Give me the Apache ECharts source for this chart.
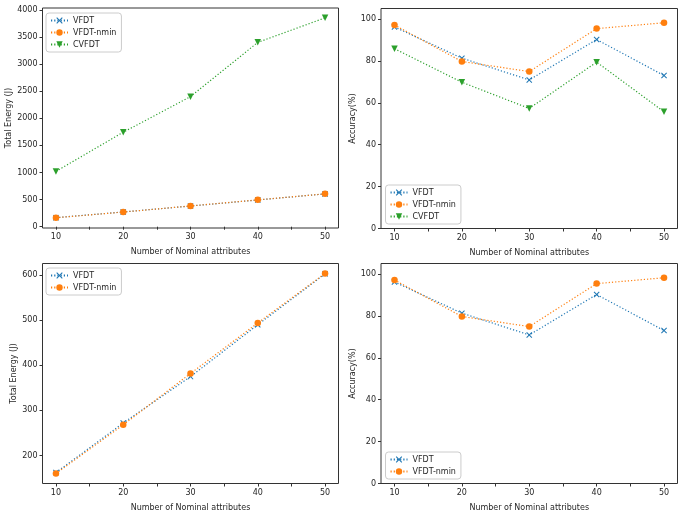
<!DOCTYPE html>
<html>
<head>
<meta charset="utf-8">
<script src="https://cdn.jsdelivr.net/npm/echarts@6/dist/echarts.min.js"></script>
<style>html,body{margin:0;padding:0;background:#fff}#c{width:685px;height:513px}</style>
</head>
<body>
<div id="c"></div>
<script>
// ---- data ----
const nominalAttrs = [10, 20, 30, 40, 50];
const xTickValues = [10, 15, 20, 25, 30, 35, 40, 45, 50];
const xLabelValues = [10, 20, 30, 40, 50];

// Top-left: total energy (J), all three
const energyVFDT_A = [167, 272, 381, 493, 605];
const energyNmin_A = [165, 270, 383, 495, 606];
const energyCVFDT_A = [1020, 1743, 2399, 3400, 3852];
const energyTicks_A = [0, 500, 1000, 1500, 2000, 2500, 3000, 3500, 4000];

// Top-right & bottom-right: accuracy (%)
const accVFDT = [96.2, 81.3, 70.9, 90.2, 73.0];
const accNmin = [97.1, 79.7, 74.9, 95.4, 98.2];
const accCVFDT = [85.8, 69.8, 57.3, 79.4, 55.7];
const accTicks = [0, 20, 40, 60, 80, 100];

// Bottom-left: total energy (J), VFDT vs VFDT-nmin
const energyVFDT_B = [162, 272, 375, 490, 603];
const energyNmin_B = [160, 268, 382, 494, 604];
const energyTicks_B = [200, 300, 400, 500, 600];

const seriesNames = ['VFDT', 'VFDT-nmin', 'CVFDT'];

// ---- styling ----
const C = { VFDT: '#1f77b4', 'VFDT-nmin': '#ff7f0e', CVFDT: '#2ca02c' };
const XSYM = 'path://M0,1.2 L1.2,0 L5,3.8 L8.8,0 L10,1.2 L6.2,5 L10,8.8 L8.8,10 L5,6.2 L1.2,10 L0,8.8 L3.8,5 Z';
const SYM = {
  VFDT: { symbol: XSYM, symbolSize: 6, symbolRotate: 0 },
  'VFDT-nmin': { symbol: 'circle', symbolSize: 6.5, symbolRotate: 0 },
  CVFDT: { symbol: 'triangle', symbolSize: 6.5, symbolRotate: 180 }
};
const FONT = 'DejaVu Sans';
const TXT = '#262626';
const FS = 8;

const grids = [
  { left: 42.5, top: 8, width: 296, height: 220 },
  { left: 381, top: 8.5, width: 296.5, height: 220 },
  { left: 42.5, top: 263.5, width: 296, height: 220 },
  { left: 381, top: 263.5, width: 296.5, height: 220 }
].map(g => Object.assign(g, { show: true, borderColor: '#333', borderWidth: 1, backgroundColor: 'transparent' }));

function xAxis(i) {
  return {
    type: 'value', gridIndex: i, min: 8, max: 52,
    name: 'Number of Nominal attributes', nameLocation: 'middle', nameGap: 20,
    nameTextStyle: { fontFamily: FONT, fontSize: FS, color: TXT },
    axisLine: { show: false },
    splitLine: { show: false },
    axisTick: { show: true, length: 3, lineStyle: { color: '#333', width: 1 }, customValues: xTickValues },
    axisLabel: { fontFamily: FONT, fontSize: FS, color: TXT, margin: 5, customValues: xLabelValues, formatter: v => String(v) }
  };
}
function yAxis(i, min, max, ticks, name, gap) {
  return {
    type: 'value', gridIndex: i, min: min, max: max,
    name: name, nameLocation: 'middle', nameGap: gap, nameRotate: 90,
    nameTextStyle: { fontFamily: FONT, fontSize: FS, color: TXT },
    axisLine: { show: false },
    splitLine: { show: false },
    axisTick: { show: true, length: 3, lineStyle: { color: '#333', width: 1 }, customValues: ticks },
    axisLabel: { fontFamily: FONT, fontSize: FS, color: TXT, margin: 5, customValues: ticks, formatter: v => String(v) }
  };
}

function ser(name, vals, gi) {
  return Object.assign({
    name: name, type: 'line', xAxisIndex: gi, yAxisIndex: gi,
    data: nominalAttrs.map((x, k) => [x, vals[k]]),
    lineStyle: { color: C[name], width: 1.2, type: [1.2, 2] },
    itemStyle: { color: C[name], borderWidth: 0 },
    showSymbol: true, animation: false
  }, SYM[name]);
}

function legend(names, left, top) {
  return {
    data: names, orient: 'vertical', left: left, top: top,
    itemWidth: 17, itemHeight: 8, itemGap: 4,
    padding: [3.5, 5, 3.5, 4],
    borderColor: '#cccccc', borderWidth: 1, borderRadius: 3,
    backgroundColor: 'rgba(255,255,255,0.8)',
    textStyle: { fontFamily: FONT, fontSize: FS, color: TXT },
    selectedMode: false
  };
}

const option = {
  backgroundColor: '#fff',
  animation: false,
  grid: grids,
  xAxis: [xAxis(0), xAxis(1), xAxis(2), xAxis(3)],
  yAxis: [
    yAxis(0, -24, 4034, energyTicks_A, 'Total Energy (J)', 28),
    yAxis(1, 0, 105, accTicks, 'Accuracy(%)', 23),
    yAxis(2, 137.8, 626, energyTicks_B, 'Total Energy (J)', 23),
    yAxis(3, 0, 105, accTicks, 'Accuracy(%)', 23)
  ],
  legend: [
    legend(seriesNames, 46, 13),
    legend(seriesNames, 385.5, 185),
    legend(seriesNames.slice(0, 2), 46, 268),
    legend(seriesNames.slice(0, 2), 385.5, 452)
  ],
  series: [
    ser('VFDT', energyVFDT_A, 0), ser('VFDT-nmin', energyNmin_A, 0), ser('CVFDT', energyCVFDT_A, 0),
    ser('VFDT', accVFDT, 1), ser('VFDT-nmin', accNmin, 1), ser('CVFDT', accCVFDT, 1),
    ser('VFDT', energyVFDT_B, 2), ser('VFDT-nmin', energyNmin_B, 2),
    ser('VFDT', accVFDT, 3), ser('VFDT-nmin', accNmin, 3)
  ]
};
const chart = echarts.init(document.getElementById('c'), null, { renderer: 'canvas' });
chart.setOption(option);
</script>
</body>
</html>
